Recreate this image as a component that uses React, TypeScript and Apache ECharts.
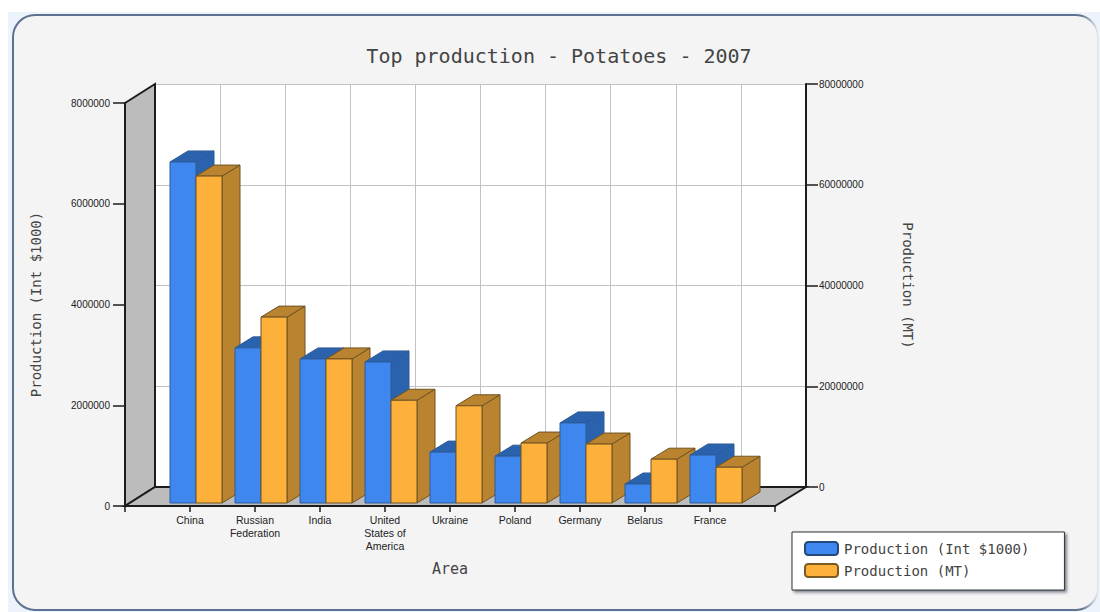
import React, { useEffect, useRef } from "react";
import * as echarts from "echarts";

const categories = ["", "China", "Russian\nFederation", "India", "United\nStates of\nAmerica", "Ukraine", "Poland", "Germany", "Belarus", "France", ""];
const intlDollars = [6770000, 3080000, 2860000, 2800000, 1010000, 930000, 1590000, 377000, 953000];
const tonnes = [64900000, 36900000, 28600000, 20400000, 19300000, 11900000, 11700000, 8700000, 7100000];
const seriesNames = ["Production (Int $1000)", "Production (MT)"];
const titleText = "Top production - Potatoes - 2007";

const FRONT = { l: 125, r: 775, t: 103, b: 506 };
const BACK = { l: 155, r: 806, t: 84, b: 487 };
const FONT = "'DejaVu Sans Mono', monospace";
const SMALL = "'Liberation Sans', Arial, sans-serif";
const DARK = "#1c1c1c";
const plain = (v: number) => String(v);

function bar3d(offsetBand: number, front: string, shade: string, edge: string, order: number) {
  return (params: any, api: any) => {
    const i = api.value(0);
    const top = api.coord([i, api.value(1)]);
    const base = api.coord([i, 0]);
    const w = 26;
    const x0 = base[0] + 6 + offsetBand * w;
    const x1 = x0 + w;
    const yb = base[1] - 3;
    const yt = top[1] - 3;
    const dx = 18;
    const dy = -11;
    const z2 = i * 10 + order;
    const style = (fill: string) => ({ fill, stroke: edge, lineWidth: 1 });
    return {
      type: "group",
      children: [
        { type: "polygon", z2, shape: { points: [[x1, yt], [x1 + dx, yt + dy], [x1 + dx, yb + dy], [x1, yb]] }, style: style(shade) },
        { type: "polygon", z2: z2 + 1, shape: { points: [[x0, yt], [x0 + dx, yt + dy], [x1 + dx, yt + dy], [x1, yt]] }, style: style(shade) },
        { type: "rect", z2: z2 + 2, shape: { x: x0, y: yt, width: w, height: yb - yt }, style: style(front) },
      ],
    };
  };
}

export default function App() {
  const ref = useRef<HTMLDivElement>(null);
  useEffect(() => {
    document.body.style.margin = "0";
    document.body.style.background = "#fff";
    const chart = echarts.init(ref.current!, null, { renderer: "svg" });
    const axisLine = { show: true, onZero: false, lineStyle: { color: DARK, width: 2 } };
    const tick = (length: number) => ({ show: true, length, lineStyle: { color: DARK, width: 1.5 } });
    chart.setOption({
      animation: false,
      backgroundColor: "#ffffff",
      title: {
        text: titleText,
        left: 554,
        top: 41,
        textAlign: "center",
        textStyle: { fontFamily: FONT, fontSize: 20, fontWeight: "normal", color: "#444" },
      },
      legend: {
        orient: "vertical",
        left: 792,
        top: 532,
        padding: [9, 35, 12, 12],
        itemGap: 7,
        itemWidth: 33,
        itemHeight: 13,
        icon: "roundRect",
        backgroundColor: "#fff",
        borderColor: "#333",
        borderWidth: 1,
        shadowColor: "rgba(40,50,70,0.6)",
        shadowBlur: 3,
        shadowOffsetX: 2,
        shadowOffsetY: 2,
        textStyle: { fontFamily: FONT, fontSize: 14, color: "#444", padding: [0, 0, 0, 1] },
        data: seriesNames,
      },
      grid: [
        { left: FRONT.l, top: FRONT.t, width: FRONT.r - FRONT.l, height: FRONT.b - FRONT.t, show: false },
        { left: BACK.l, top: BACK.t, width: BACK.r - BACK.l, height: BACK.b - BACK.t, show: true, backgroundColor: "#fff", borderWidth: 0 },
      ],
      xAxis: [
        {
          type: "category", gridIndex: 0, data: categories, boundaryGap: false,
          name: "Area", nameLocation: "middle", nameGap: 55,
          nameTextStyle: { fontFamily: FONT, fontSize: 15, color: "#444" },
          axisLine, axisTick: { ...tick(6), interval: 0 },
          axisLabel: { interval: 0, margin: 7, fontFamily: SMALL, fontSize: 10.5, lineHeight: 13, color: "#222" },
          splitLine: { show: false },
        },
        {
          type: "category", gridIndex: 1, data: categories, boundaryGap: false,
          axisLine: { show: true, lineStyle: { color: DARK, width: 2 } },
          axisTick: { show: false }, axisLabel: { show: false },
          splitLine: { show: true, interval: 0, lineStyle: { color: "#c2c2c2", width: 1 } },
        },
      ],
      yAxis: [
        {
          type: "value", gridIndex: 0, min: 0, max: 8000000, interval: 2000000, position: "left",
          name: seriesNames[0], nameLocation: "middle", nameGap: 82,
          nameTextStyle: { fontFamily: FONT, fontSize: 14, color: "#444" },
          axisLine, axisTick: tick(12),
          axisLabel: { margin: 15, fontFamily: SMALL, fontSize: 10, color: "#222", formatter: plain },
          splitLine: { show: false },
        },
        {
          type: "value", gridIndex: 1, min: 0, max: 80000000, interval: 20000000, position: "right",
          name: seriesNames[1], nameLocation: "middle", nameGap: 95, nameRotate: -90,
          nameTextStyle: { fontFamily: FONT, fontSize: 14, color: "#444" },
          axisLine: { show: true, lineStyle: { color: DARK, width: 2 } }, axisTick: tick(12),
          axisLabel: { margin: 13, fontFamily: SMALL, fontSize: 10, color: "#222", formatter: plain },
          splitLine: { show: true, lineStyle: { color: "#c2c2c2", width: 1 } },
        },
        {
          type: "value", gridIndex: 0, min: 0, max: 80000000, interval: 20000000, position: "right", show: false,
          splitLine: { show: false },
        },
      ],
      graphic: [
        { type: "rect", z: -2, silent: true, shape: { x: 8, y: 12, width: 1092, height: 600 }, style: { fill: "#edf3fa" } },
        {
          type: "rect", z: -1, silent: true,
          shape: { x: 13, y: 15, width: 1085, height: 595, r: 22 },
          style: {
            fill: "#f4f4f4",
            lineWidth: 2,
            stroke: {
              type: "linear", x: 0, y: 0, x2: 1, y2: 0,
              colorStops: [
                { offset: 0, color: "#5d7190" },
                { offset: 0.985, color: "#5d7190" },
                { offset: 1, color: "#e9e9ee" },
              ],
            },
          },
        },
        { type: "polygon", z: 1, silent: true, shape: { points: [[FRONT.l, FRONT.t], [BACK.l, BACK.t], [BACK.l, BACK.b], [FRONT.l, FRONT.b]] }, style: { fill: "#bcbcbc", stroke: DARK, lineWidth: 2 } },
        { type: "polygon", z: 1, silent: true, shape: { points: [[FRONT.l, FRONT.b], [BACK.l, BACK.b], [BACK.r, BACK.b], [FRONT.r, FRONT.b]] }, style: { fill: "#bcbcbc", stroke: DARK, lineWidth: 2 } },
      ],
      series: [
        {
          type: "custom", name: seriesNames[0], xAxisIndex: 0, yAxisIndex: 0,
          encode: { x: 0, y: 1 },
          itemStyle: { color: "#3d87ee", borderColor: "#24497c", borderWidth: 1.5 },
          renderItem: bar3d(-1, "#3d87ee", "#2b62ad", "#2f5b96", 0),
          data: intlDollars.map((v, i) => [i + 1, v]),
        },
        {
          type: "custom", name: seriesNames[1], xAxisIndex: 0, yAxisIndex: 2,
          encode: { x: 0, y: 1 },
          itemStyle: { color: "#fdb03a", borderColor: "#7a5a20", borderWidth: 1.5 },
          renderItem: bar3d(0, "#fdb03a", "#b98330", "#6f5322", 5),
          data: tonnes.map((v, i) => [i + 1, v]),
        },
      ],
    });
    return () => chart.dispose();
  }, []);
  return <div ref={ref} style={{ position: "fixed", left: 0, top: 0, width: 1100, height: 612 }} />;
}
